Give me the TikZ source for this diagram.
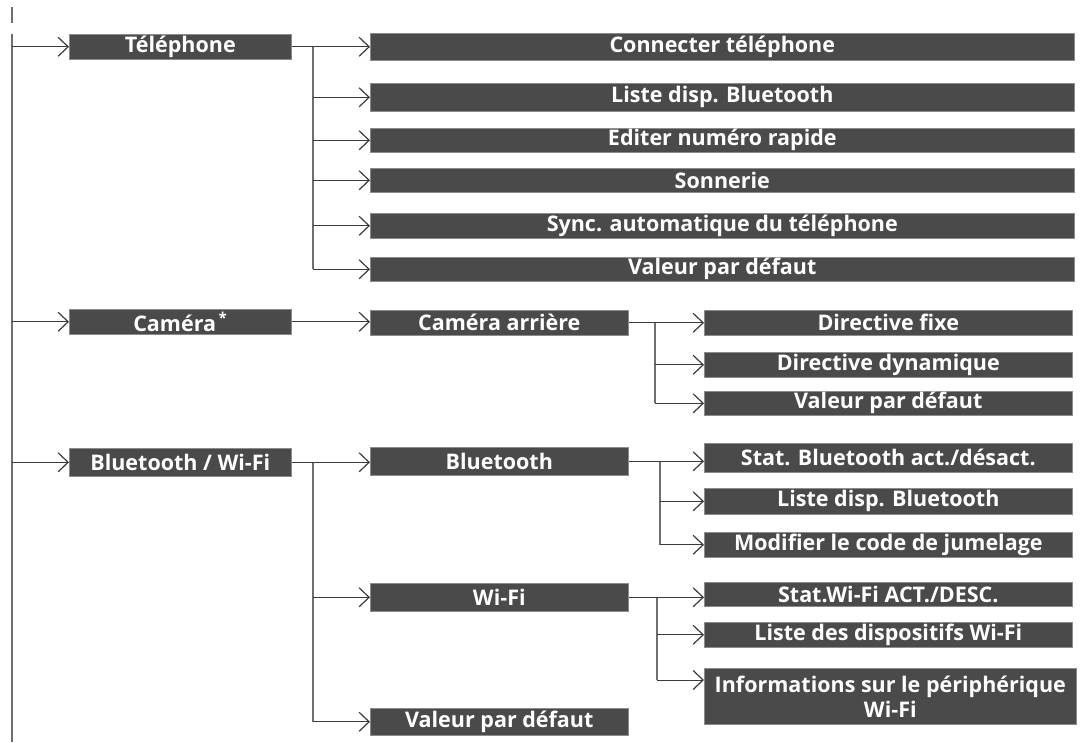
\documentclass[tikz,border=0pt]{standalone}
\usepackage{fontspec}
\setmainfont{Open Sans}
\usetikzlibrary{arrows.meta}
\definecolor{boxfill}{HTML}{4A4A4A}
\definecolor{boxedge}{HTML}{8C8C8C}
\definecolor{linec}{HTML}{3A3A3A}
\definecolor{trunkc}{HTML}{6E6E6E}
\begin{document}
\begin{tikzpicture}[x=1pt,y=-1pt,
  box/.style={rectangle, fill=boxfill, draw=boxedge, line width=0.6pt, inner sep=0pt,
    text=white, font=\fontsize{21.5}{25}\selectfont\bfseries, anchor=north west, align=center},
  lone/.style={box, minimum width=222pt},
  ltwo/.style={box, minimum width=704pt},
  lmid/.style={box, minimum width=258pt},
  lthree/.style={box, minimum width=368pt},
  arr/.style={draw=linec, line width=1pt, -{Straight Barb[length=10pt,width=19pt,line width=1.2pt]}},
  trunk/.style={draw=trunkc, line width=1.6pt}]
\useasboundingbox (0,0) rectangle (1090,742);

% level 1
\node[lone, minimum height=25pt] (tel) at (69,34) {Téléphone};
\node[lone, minimum height=25pt] (cam) at (69,309) {Caméra\textsuperscript{\,*}};
\node[lone, minimum height=28pt] (btw) at (69,448) {Bluetooth / Wi-Fi};

% telephone children
\node[ltwo, minimum height=27pt] (t1) at (370,33) {Connecter téléphone};
\node[ltwo, minimum height=28pt] (t2) at (370,83) {Liste disp. Bluetooth};
\node[ltwo, minimum height=24pt] (t3) at (370,128) {Editer numéro rapide};
\node[ltwo, minimum height=24pt] (t4) at (370,168) {Sonnerie};
\node[ltwo, minimum height=25pt] (t5) at (370,213) {Sync. automatique du téléphone};
\node[ltwo, minimum height=24pt] (t6) at (370,257) {Valeur par défaut};

% camera children
\node[lmid, minimum height=25pt] (ca) at (370,310) {Caméra arrière};
\node[lthree, minimum height=25pt] (d1) at (704,310) {Directive fixe};
\node[lthree, minimum height=25pt] (d2) at (704,352) {Directive dynamique};
\node[lthree, minimum height=24pt] (d3) at (704,391) {Valeur par défaut};

% bluetooth / wifi children
\node[lmid, minimum height=28pt] (bt) at (370,447) {Bluetooth};
\node[lthree, minimum height=29pt] (b1) at (704,443) {Stat. Bluetooth act./désact.};
\node[lthree, minimum height=26pt] (b2) at (704,488) {Liste disp. Bluetooth};
\node[lthree, minimum height=25pt] (b3) at (704,532) {Modifier le code de jumelage};
\node[lmid, minimum height=28pt] (wf) at (370,583) {Wi-Fi};
\node[lthree, minimum height=24pt] (w1) at (704,582) {Stat.Wi-Fi ACT./DESC.};
\node[lthree, minimum height=25pt] (w2) at (704,622) {Liste des dispositifs Wi-Fi};
\node[box, minimum width=372pt, minimum height=56pt] (w3) at (704,668) {Informations sur le périphérique\\Wi-Fi};
\node[lmid, minimum height=27pt] (bv) at (370,708) {Valeur par défaut};

% main trunk
\coordinate (m0) at (12,7);
\coordinate (m1) at (12,23);
\coordinate (m2) at (12,34);
\coordinate (m3) at (12,742);
\draw[trunk] (m0) -- (m1);
\draw[trunk] (m2) -- (m3);
\draw[arr] (m2 |- tel.west) -- (tel.west);
\draw[arr] (m2 |- cam.west) -- (cam.west);
\draw[arr] (m2 |- btw.west) -- (btw.west);

% telephone branch
\coordinate (ta) at (313,0);
\draw[trunk] (ta |- tel.east) -- (ta |- t6.west);
\draw[arr] (tel.east) -- (tel.east -| t1.west);
\foreach \n in {t2,t3,t4,t5,t6} \draw[arr] (ta |- \n.west) -- (\n.west);

% camera branch
\draw[arr] (cam.east) -- (cam.east -| ca.west);
\coordinate (cb) at (655,0);
\draw[trunk] (cb |- ca.east) -- (cb |- d3.west);
\draw[arr] (ca.east) -- (ca.east -| d1.west);
\foreach \n in {d2,d3} \draw[arr] (cb |- \n.west) -- (\n.west);

% bluetooth / wifi branch
\coordinate (ba) at (313,0);
\draw[trunk] (ba |- btw.east) -- (ba |- bv.west);
\draw[arr] (btw.east) -- (btw.east -| bt.west);
\foreach \n in {wf,bv} \draw[arr] (ba |- \n.west) -- (\n.west);

\coordinate (bb) at (660,0);
\draw[trunk] (bb |- bt.east) -- (bb |- b3.west);
\draw[arr] (bt.east) -- (bt.east -| b1.west);
\foreach \n in {b2,b3} \draw[arr] (bb |- \n.west) -- (\n.west);

\coordinate (wb) at (657,0);
\coordinate (w3in) at ([yshift=-12pt]w3.north west);
\draw[trunk] (wb |- wf.east) -- (wb |- w3in);
\draw[arr] (wf.east) -- (wf.east -| w1.west);
\draw[arr] (wb |- w2.west) -- (w2.west);
\draw[arr] (wb |- w3in) -- (w3in);
\end{tikzpicture}
\end{document}
